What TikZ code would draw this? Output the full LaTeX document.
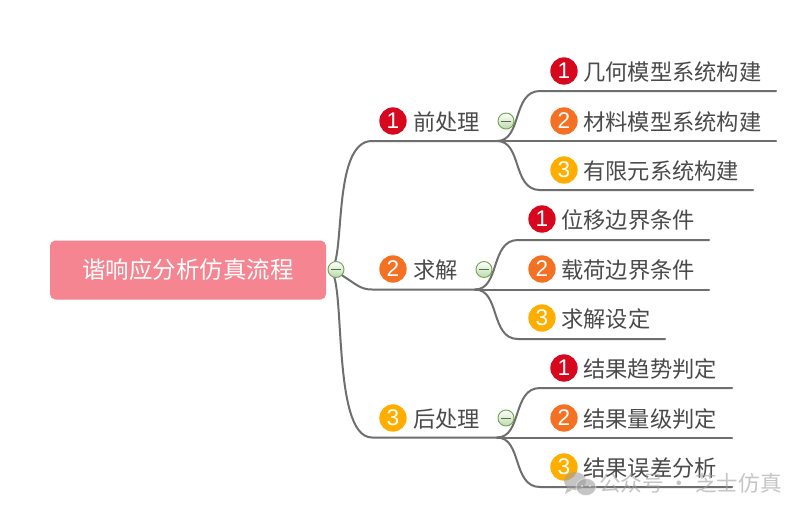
\documentclass[tikz,border=0pt]{standalone}
\usepackage{fontspec}
\setmainfont{Noto Sans CJK SC}
\newfontfamily\badgefont{Liberation Sans}
\definecolor{rootpink}{HTML}{F48591}
\definecolor{txt}{HTML}{4A4A4A}
\definecolor{conn}{HTML}{6E6E6E}
\definecolor{bone}{HTML}{D7071E}
\definecolor{btwo}{HTML}{F47022}
\definecolor{bthree}{HTML}{FFAE00}
\definecolor{ballg}{HTML}{6FA84F}
\tikzset{
 x=0.75pt,y=-0.75pt,
 rootbox/.style={fill=rootpink,rounded corners=4pt,minimum width=207pt,minimum height=44.25pt,inner sep=0pt,text=white,font=\fontsize{17.6}{20}\selectfont},
 label/.style={anchor=west,inner sep=0pt,text=txt,font=\fontsize{16.7}{20}\selectfont},
 badge/.style={circle,minimum size=20.5pt,inner sep=0pt,text=white,font=\badgefont\fontsize{17}{17}\selectfont},
 link/.style={draw=conn,line width=1.5pt,line cap=round},
 ball/.style={circle,minimum size=12pt,inner sep=0pt,draw=ballg,line width=0.7pt,top color=white,bottom color=ballg!45},
 dash line/.style={draw=ballg!70!black,line width=0.7pt},
}
\newcommand{\collapse}[2]{\node[ball] (#1) at #2 {};\draw[dash line] ([xshift=-3.5pt]#1.center) -- ([xshift=3.5pt]#1.center);}
\begin{document}
\begin{tikzpicture}
\useasboundingbox (0,0) rectangle (806,514);
\fill[white] (0,0) rectangle (806,514);
% root
\node[rootbox] (root) at (188,270) {谐响应分析仿真流程};
% joints
\coordinate (r) at (329,270);
\coordinate (a0) at (372,141); \coordinate (a1) at (497,141);
\coordinate (b0) at (372,289.5); \coordinate (b1) at (475,289.5);
\coordinate (c0) at (372,437.5); \coordinate (c1) at (497,437.5);
% line ends
\coordinate (a1s) at (540,91); \coordinate (a1e) at (776,91);
\coordinate (a2e) at (776,141);
\coordinate (a3s) at (540,190); \coordinate (a3e) at (753,190);
\coordinate (b1s) at (518,240); \coordinate (b1e) at (709,240);
\coordinate (b2e) at (709,289.5);
\coordinate (b3s) at (518,339); \coordinate (b3e) at (665,339);
\coordinate (c1s) at (540,388); \coordinate (c1e) at (732,388);
\coordinate (c2e) at (732,437.5);
\coordinate (c3s) at (540,487); \coordinate (c3e) at (732,487);
% connectors
\draw[link] (r) .. controls (347,270) and (330,141) .. (a0) -- (a1);
\draw[link] (r) -- (340,274) .. controls (356,284) and (360,289.5) .. (b0) -- (b1);
\draw[link] (r) .. controls (347,270) and (330,437.5) .. (c0) -- (c1);
\foreach \j/\s/\e/\ex in {a1/a1s/a1e/0,a1/a3s/a3e/0,b1/b1s/b1e/0,b1/b3s/b3e/0,c1/c1s/c1e/0,c1/c3s/c3e/0}{
  \draw[link] (\j) .. controls ([xshift=19pt]\j) and ([xshift=-21pt]\s) .. (\s) -- (\e);
}
\draw[link] (a1) -- (a2e);
\draw[link] (b1) -- (b2e);
\draw[link] (c1) -- (c2e);
% collapse marks
\collapse{k0}{(336,269.5)}
\collapse{k1}{(506,121)}
\collapse{k2}{(484,269.5)}
\collapse{k3}{(506,418)}
% level one
\node[badge,fill=bone] (na) at (393,121) {1}; \node[label] (la) at (413,122) {前处理};
\node[badge,fill=btwo] (nb) at (393,269) {2}; \node[label] (lb) at (413,270) {求解};
\node[badge,fill=bthree] (nc) at (393,418) {3}; \node[label] (lc) at (413,419) {后处理};
% level two
\node[badge,fill=bone] (na1) at (564,71) {1}; \node[label] (la1) at (583,72) {几何模型系统构建};
\node[badge,fill=btwo] (na2) at (564,121) {2}; \node[label] (la2) at (583,122) {材料模型系统构建};
\node[badge,fill=bthree] (na3) at (564,170) {3}; \node[label] (la3) at (583,171) {有限元系统构建};
\node[badge,fill=bone] (nb1) at (542,219) {1}; \node[label] (lb1) at (561,220) {位移边界条件};
\node[badge,fill=btwo] (nb2) at (542,269) {2}; \node[label] (lb2) at (561,270) {载荷边界条件};
\node[badge,fill=bthree] (nb3) at (542,318) {3}; \node[label] (lb3) at (561,319) {求解设定};
\node[badge,fill=bone] (nc1) at (564,368) {1}; \node[label] (lc1) at (583,369) {结果趋势判定};
\node[badge,fill=btwo] (nc2) at (564,418) {2}; \node[label] (lc2) at (583,419) {结果量级判定};
\node[badge,fill=bthree] (nc3) at (564,467) {3}; \node[label] (lc3) at (583,468) {结果误差分析};
% watermark
\begin{scope}[opacity=0.6]
\fill[gray!75] (575,481) ellipse (11 and 9);
\fill[gray!75] (567,488) -- (565,494) -- (572,490) -- cycle;
\fill[gray!75,draw=white,line width=0.5pt] (586,487) ellipse (10 and 8.5);
\fill[white] (582,486) circle (1.2) (590,486) circle (1.2);
\node[anchor=west,inner sep=0pt,text=gray!75,font=\fontsize{16.2}{18}\selectfont] (wm) at (599,483) {公众号 · 芝士仿真};
\end{scope}
\end{tikzpicture}
\end{document}
